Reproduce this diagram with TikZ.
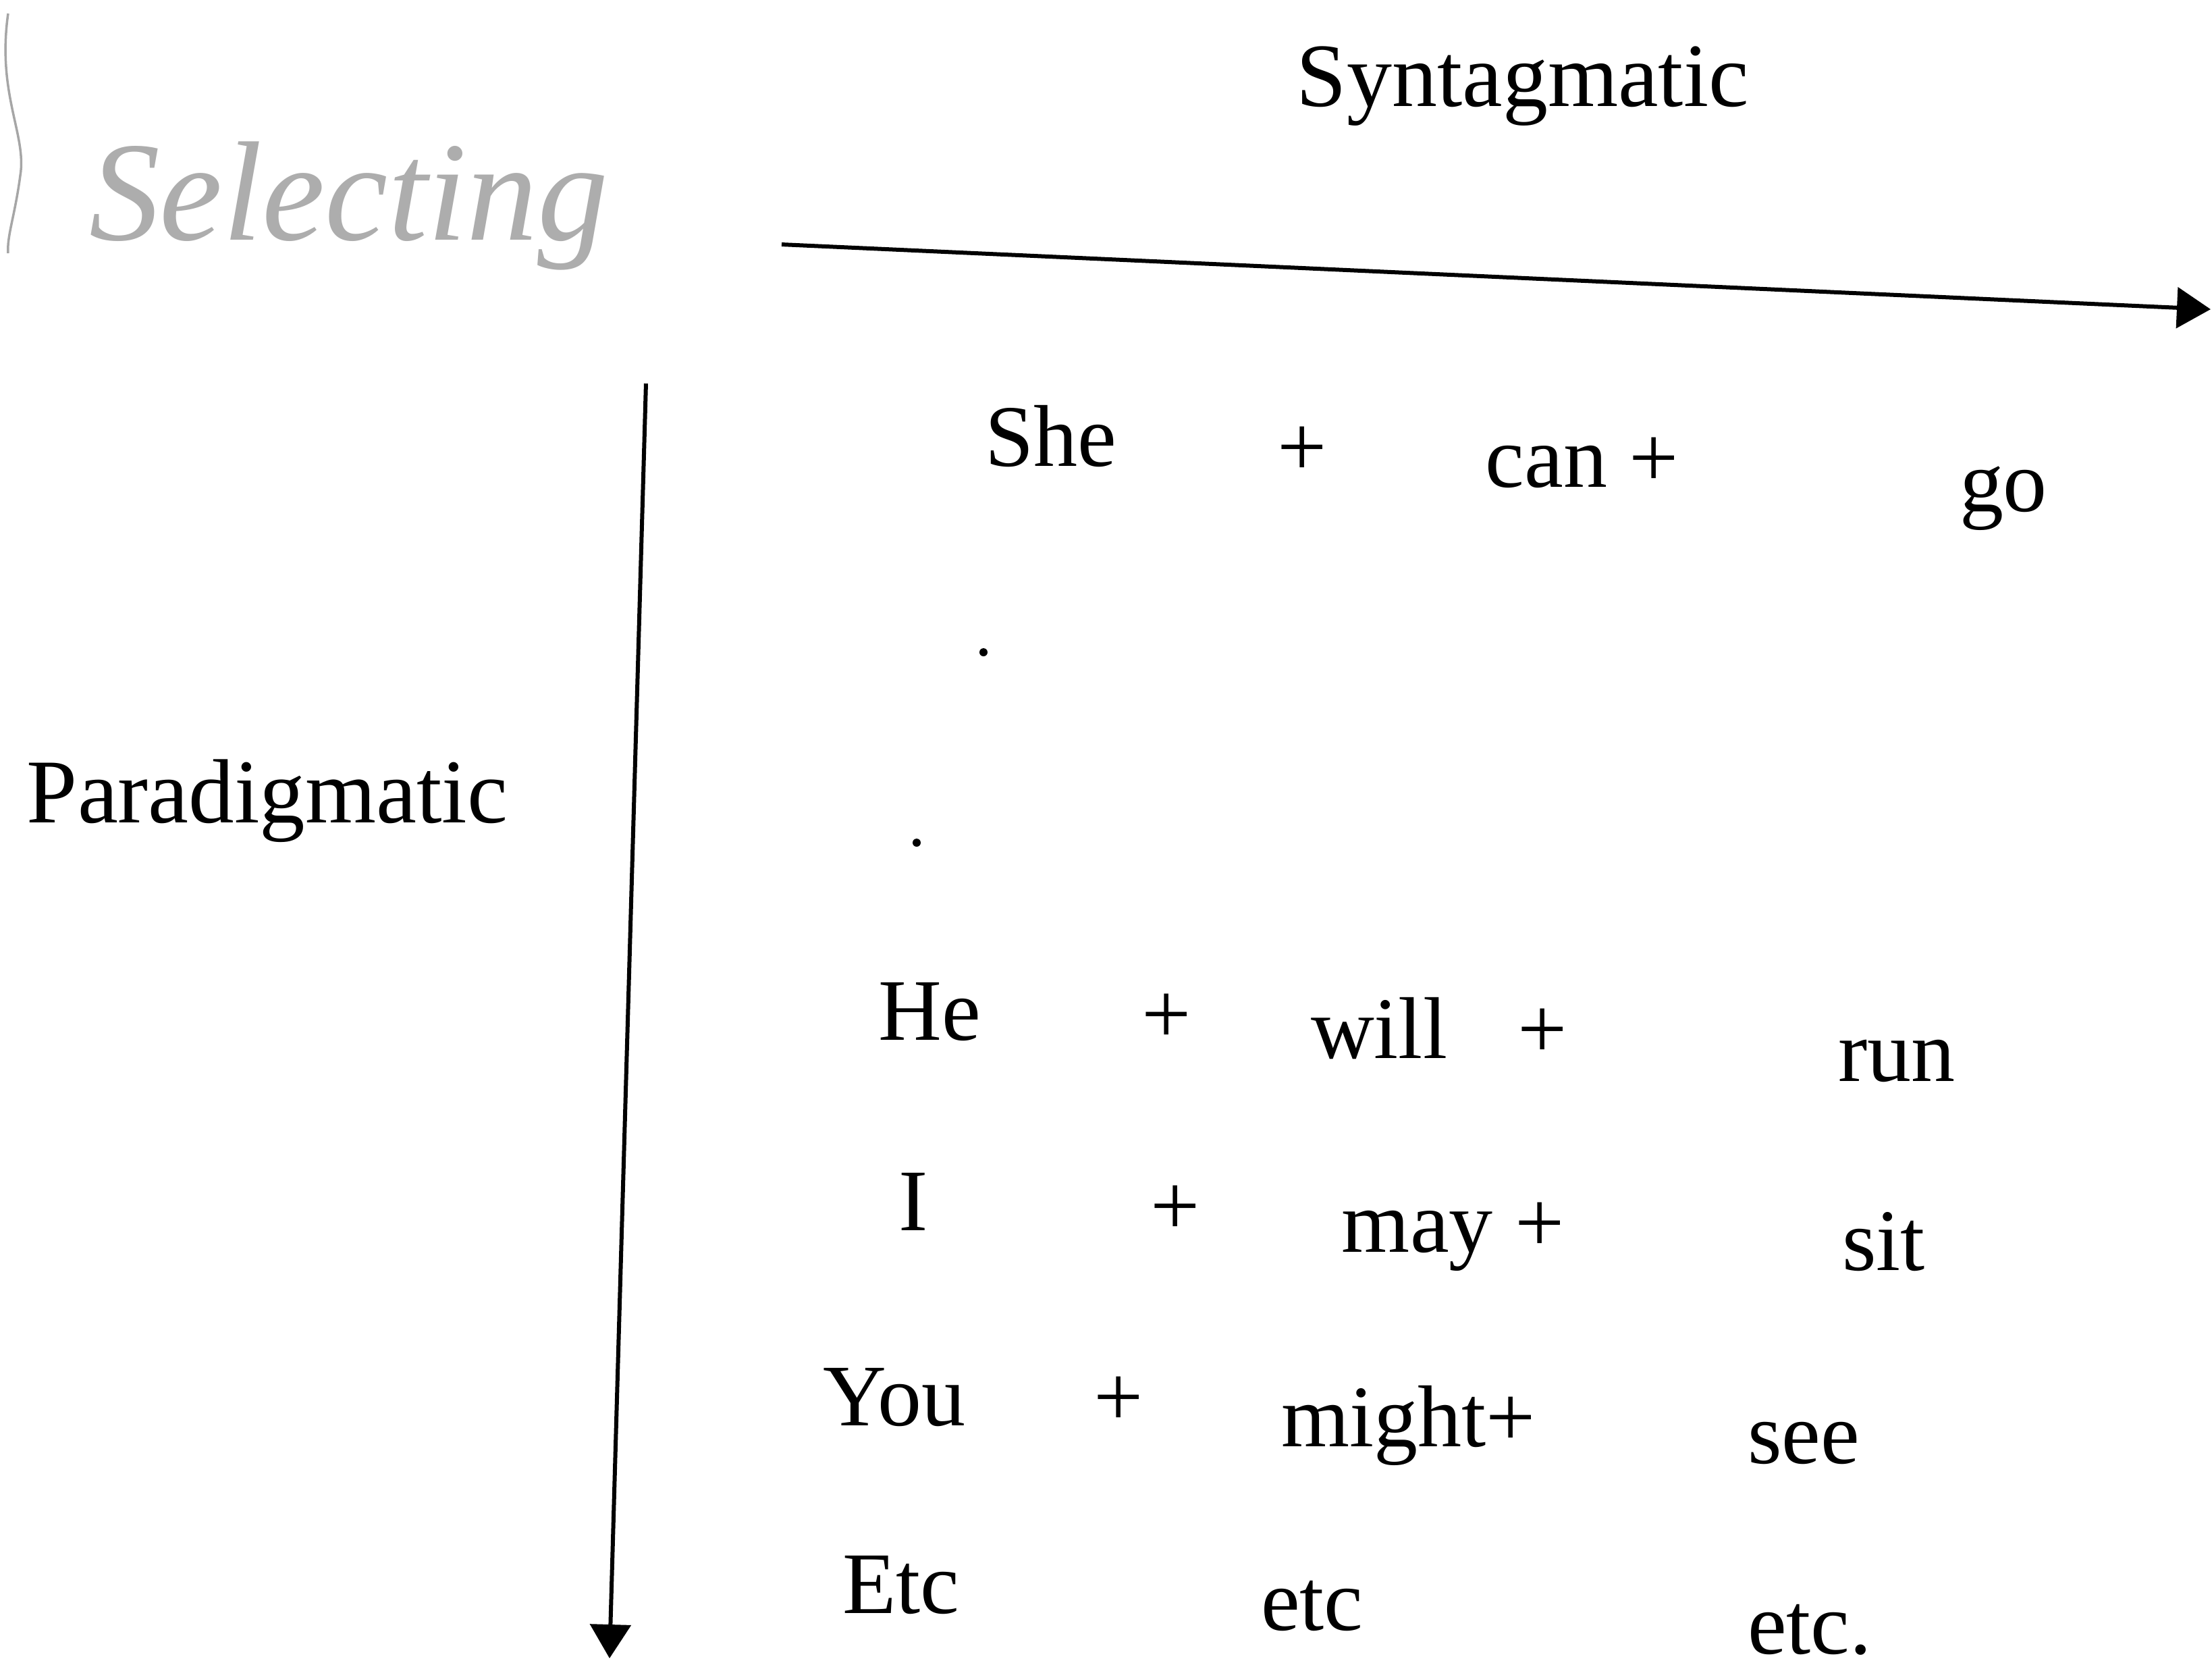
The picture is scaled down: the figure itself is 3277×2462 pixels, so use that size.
\documentclass[tikz,border=0pt]{standalone}
\usepackage{fontspec}
\setmainfont{Liberation Serif}
\usetikzlibrary{arrows.meta}
\begin{document}
\begin{tikzpicture}[x=0.1pt,y=-0.1pt,
  word/.style={font=\fontsize{13}{15}\selectfont, inner sep=0pt, anchor=base west},
  plus/.style={font=\fontsize{13}{15}\selectfont, inner sep=0pt, anchor=base},
  title/.style={font=\fontsize{13.4}{16}\selectfont, inner sep=0pt, anchor=base west},
  hand/.style={font=\fontsize{21}{25}\selectfont\itshape, text=black!32, inner sep=0pt, anchor=base west},
  axis/.style={line width=0.6pt, -{Triangle[length=5pt,width=6pt]}},
  dotmark/.style={circle, fill=black, inner sep=0pt, minimum size=1.2pt}]
\useasboundingbox (0,0) rectangle (3277,2462);

% handwritten annotation
\node[hand] (sel) at (130,355) {Selecting};
\draw[black!35, line width=0.35pt] (12,20) .. controls (-5,140) and (40,200) .. (30,260) .. controls (22,320) and (10,350) .. (12,375);

% axes
\coordinate (hs) at (1158,362);
\coordinate (he) at (3275,458);
\draw[axis] (hs) -- (he);
\coordinate (vs) at (957,568);
\coordinate (ve) at (903,2456);
\draw[axis] (vs) -- (ve);

\node[title] (synt) at (1919,157) {Syntagmatic};
\node[title, font=\fontsize{13.5}{16}\selectfont] (para) at (38,1218) {Paradigmatic};

% row 1
\node[word] (she) at (1457,690) {She};
\node[plus] (p1) at (1929,705) {+};
\node[word] (can) at (2199,721) {can +};
\node[word] (go) at (2901,757) {go};

\node[dotmark] (d1) at (1457,966) {};
\node[dotmark] (d2) at (1358,1248) {};

% row 2
\node[word] (he2) at (1300,1540) {He};
\node[plus] (p2) at (1728,1545) {+};
\node[word] (will) at (1940,1567) {will\hspace{0.8em}+};
\node[word] (run) at (2721,1601) {run};

% row 3
\node[word] (i3) at (1329,1822) {I};
\node[plus] (p3) at (1741,1829) {+};
\node[word] (may) at (1986,1854) {may +};
\node[word] (sit) at (2727,1881) {sit};

% row 4
\node[word] (you) at (1218,2111) {You};
\node[plus] (p4) at (1657,2112) {+};
\node[word] (might) at (1896,2142) {might+};
\node[word] (see) at (2587,2167) {see};

% row 5
\node[word] (etc1) at (1246,2389) {Etc};
\node[word] (etc2) at (1866,2414) {etc};
\node[word] (etc3) at (2587,2449) {etc.};
\end{tikzpicture}
\end{document}
